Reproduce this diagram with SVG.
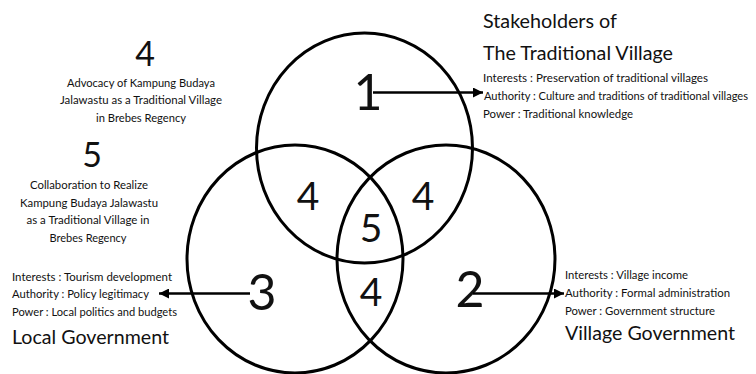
<svg xmlns="http://www.w3.org/2000/svg" width="756" height="374" viewBox="0 0 756 374">
<style>
  text { font-family: Lato, "Open Sans", "Liberation Sans", sans-serif; fill: #111; }
  .ring { fill: none; stroke: #000; stroke-width: 3; }
  .big { font-size: 50px; text-anchor: middle; }
  .mid { font-size: 39px; text-anchor: middle; }
  .head { font-size: 34px; text-anchor: middle; }
  .title { font-size: 18.5px; }
  .small { font-size: 11.5px; }
  .cap { font-size: 11px; text-anchor: middle; }
  .conn { stroke: #000; stroke-width: 2.5; fill: none; marker-end: url(#ah); }
</style>
<defs>
  <marker id="ah" viewBox="0 0 10 10" refX="10" refY="5" markerWidth="4" markerHeight="4" markerUnits="strokeWidth" orient="auto">
    <path d="M0,0 L10,5 L0,10 z" fill="#000"/>
  </marker>
</defs>
<rect width="756" height="374" fill="#fff"/>

<g id="circle-traditional">
  <ellipse class="ring" cx="364.5" cy="148" rx="108" ry="115"/>
  <text class="big" x="368" y="110">1</text>
</g>
<g id="circle-local">
  <ellipse class="ring" cx="295" cy="259" rx="108" ry="114"/>
  <text class="big" x="262" y="310">3</text>
</g>
<g id="circle-village">
  <ellipse class="ring" cx="446" cy="259" rx="109" ry="114"/>
  <text class="big" x="470" y="307">2</text>
</g>
<g id="overlaps">
  <text class="mid" x="308" y="210">4</text>
  <text class="mid" x="423" y="210">4</text>
  <text class="mid" x="371" y="242">5</text>
  <text class="mid" x="371" y="306">4</text>
</g>

<g id="connectors">
  <line class="conn" x1="373" y1="92.5" x2="483" y2="92.5"/>
  <line class="conn" x1="250" y1="293.5" x2="159" y2="293.5"/>
  <line class="conn" x1="473" y1="293.5" x2="564" y2="293.5"/>
</g>

<g id="legend-4">
  <text class="head" x="145" y="66">4</text>
  <text class="cap" x="141" y="87" textLength="148" lengthAdjust="spacingAndGlyphs">Advocacy of Kampung Budaya</text>
  <text class="cap" x="141" y="104" textLength="162" lengthAdjust="spacingAndGlyphs">Jalawastu as a Traditional Village</text>
  <text class="cap" x="141" y="121.5" textLength="90" lengthAdjust="spacingAndGlyphs">in Brebes Regency</text>
</g>
<g id="legend-5">
  <text class="head" x="92" y="167">5</text>
  <text class="cap" x="89" y="189" textLength="118" lengthAdjust="spacingAndGlyphs">Collaboration to Realize</text>
  <text class="cap" x="89" y="207" textLength="138" lengthAdjust="spacingAndGlyphs">Kampung Budaya Jalawastu</text>
  <text class="cap" x="88" y="224" textLength="123" lengthAdjust="spacingAndGlyphs">as a Traditional Village in</text>
  <text class="cap" x="88" y="242" textLength="77" lengthAdjust="spacingAndGlyphs">Brebes Regency</text>
</g>

<g id="stakeholder-traditional">
  <text class="title" x="483" y="28" textLength="134" lengthAdjust="spacingAndGlyphs">Stakeholders of</text>
  <text class="title" x="483" y="60" textLength="190" lengthAdjust="spacingAndGlyphs">The Traditional Village</text>
  <text class="small" x="483" y="82" textLength="225" lengthAdjust="spacingAndGlyphs">Interests : Preservation of traditional villages</text>
  <text class="small" x="484" y="100" style="font-size:11px" textLength="264" lengthAdjust="spacingAndGlyphs">Authority : Culture and traditions of traditional villages</text>
  <text class="small" x="483" y="118" textLength="150" lengthAdjust="spacingAndGlyphs">Power : Traditional knowledge</text>
</g>

<g id="stakeholder-local">
  <text class="small" x="12" y="280.5" textLength="160" lengthAdjust="spacingAndGlyphs">Interests : Tourism development</text>
  <text class="small" x="12" y="298" textLength="137" lengthAdjust="spacingAndGlyphs">Authority : Policy legitimacy</text>
  <text class="small" x="12" y="316" textLength="165" lengthAdjust="spacingAndGlyphs">Power : Local politics and budgets</text>
  <text class="title" x="12" y="344" textLength="157" lengthAdjust="spacingAndGlyphs">Local Government</text>
</g>

<g id="stakeholder-village">
  <text class="small" x="565" y="278.5" textLength="123" lengthAdjust="spacingAndGlyphs">Interests : Village income</text>
  <text class="small" x="565" y="296.5" textLength="165" lengthAdjust="spacingAndGlyphs">Authority : Formal administration</text>
  <text class="small" x="565" y="314.5" textLength="150" lengthAdjust="spacingAndGlyphs">Power : Government structure</text>
  <text class="title" x="565" y="339.5" textLength="170" lengthAdjust="spacingAndGlyphs">Village Government</text>
</g>
</svg>
